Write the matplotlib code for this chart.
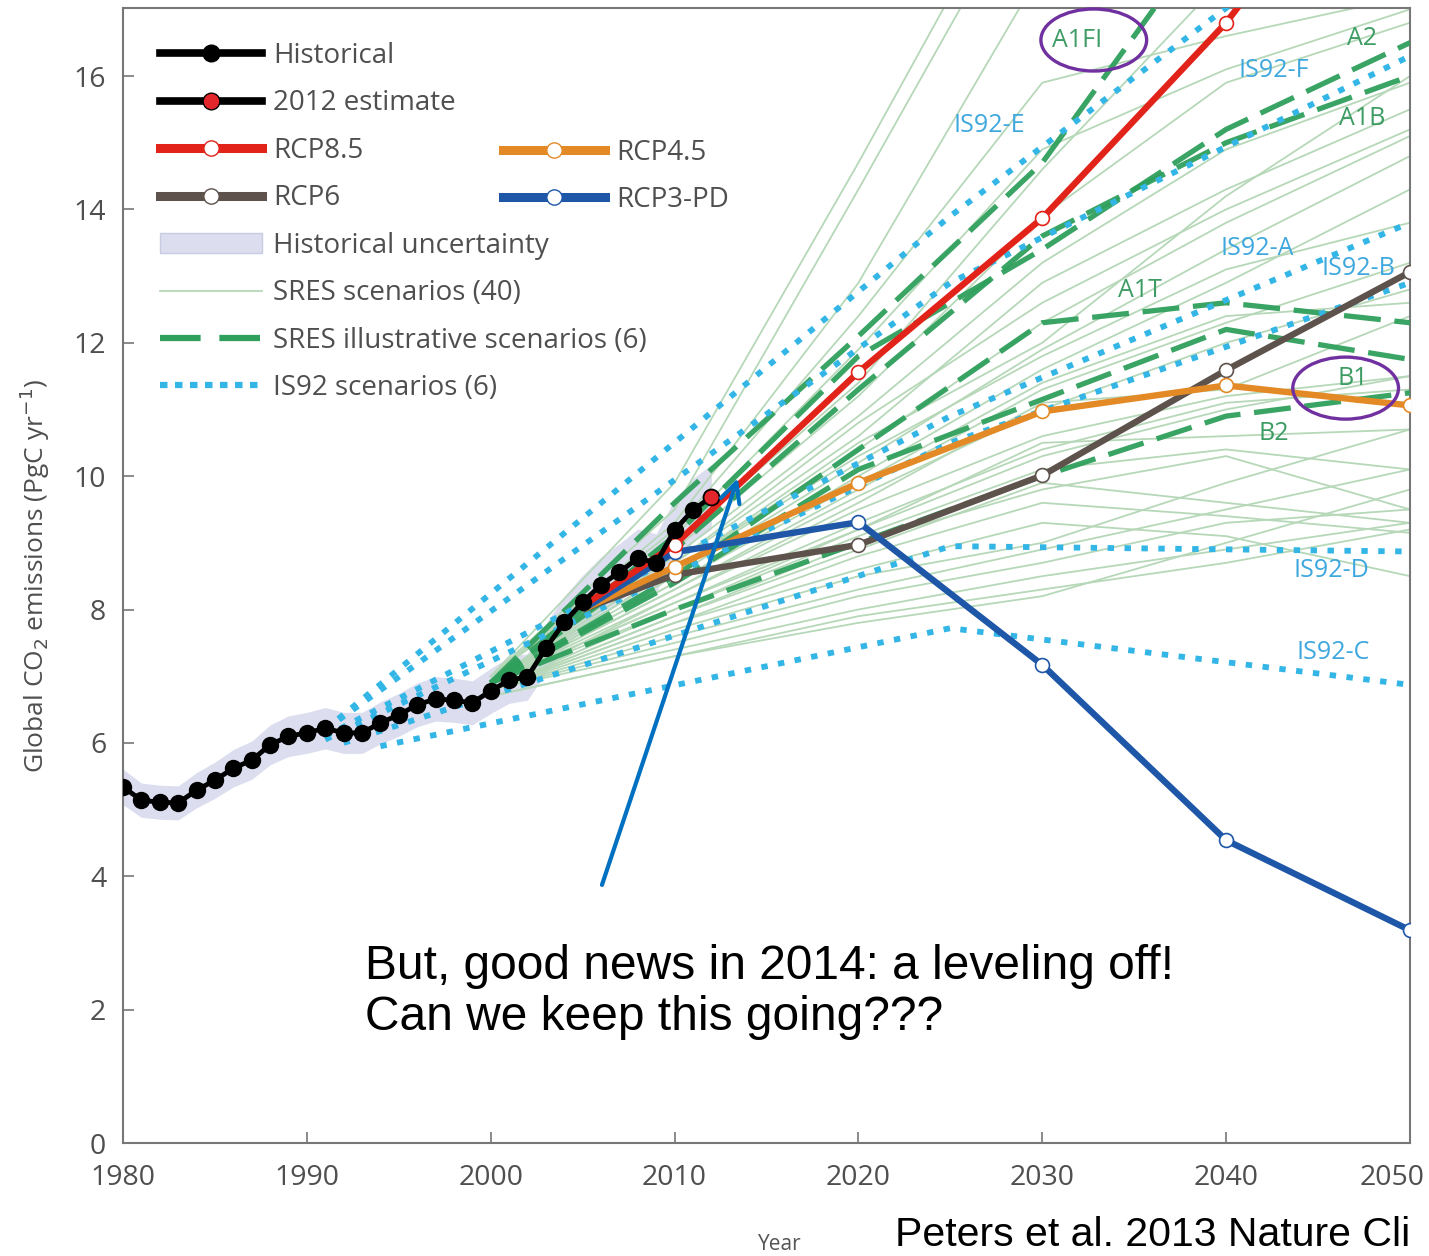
import matplotlib
matplotlib.use('Agg')
import matplotlib.pyplot as plt
import matplotlib.transforms as mtransforms
from matplotlib.lines import Line2D
from matplotlib.patches import Patch, Ellipse

FONT = ['Open Sans', 'DejaVu Sans']
plt.rcParams['font.family'] = FONT

# ---------------- data ----------------
hist_years = list(range(1980, 2013))
hist_values = [5.34, 5.14, 5.11, 5.10, 5.29, 5.44, 5.62, 5.74, 5.97, 6.10,
               6.15, 6.22, 6.15, 6.15, 6.30, 6.42, 6.57, 6.66, 6.64, 6.60,
               6.78, 6.94, 6.99, 7.42, 7.81, 8.11, 8.37, 8.56, 8.77, 8.70,
               9.19, 9.49, 9.69]
est_year = 2012
est_value = 9.69

rcp_years = [2005, 2010, 2020, 2030, 2040, 2050]
rcp85 = [8.05, 8.97, 11.56, 13.87, 16.80, 20.40]
rcp6 = [8.00, 8.52, 8.97, 10.01, 11.59, 13.06]
rcp45 = [8.00, 8.64, 9.90, 10.97, 11.36, 11.06]
rcp3pd = [8.00, 8.86, 9.31, 7.17, 4.54, 3.19]

sres_years = [2000, 2010, 2020, 2030, 2040, 2050]
sres_a1fi = [6.9, 9.6, 12.1, 14.7, 18.5, 23.0]
sres_a2 = [6.9, 9.1, 11.8, 13.4, 15.2, 16.5]
sres_a1b = [6.9, 8.9, 11.3, 13.6, 15.0, 16.0]
sres_a1t = [6.9, 8.5, 10.4, 12.3, 12.6, 12.3]
sres_b1 = [6.9, 8.4, 10.1, 11.15, 12.2, 11.75]
sres_b2 = [6.9, 8.0, 9.0, 10.0, 10.9, 11.25]

sres_other = [
    [7.0, 9.9, 14.7, 19.7, 24.0, 28.0],
    [7.0, 9.5, 14.3, 19.2, 23.0, 27.0],
    [7.0, 9.3, 12.9, 17.6, 21.0, 25.0],
    [7.0, 9.2, 12.4, 15.9, 16.6, 17.2],
    [7.0, 9.0, 11.4, 14.6, 17.5, 20.0],
    [7.0, 9.1, 11.9, 14.9, 16.1, 17.0],
    [6.9, 8.9, 11.2, 13.9, 15.9, 16.8],
    [6.9, 8.8, 10.9, 13.2, 14.9, 15.9],
    [6.9, 8.7, 10.6, 12.9, 14.3, 15.5],
    [6.9, 8.6, 10.4, 12.3, 13.8, 15.1],
    [6.9, 8.5, 10.2, 11.9, 13.4, 14.8],
    [6.9, 8.4, 10.0, 11.6, 12.9, 14.3],
    [6.9, 8.3, 9.8, 11.3, 12.3, 13.2],
    [6.9, 8.3, 9.7, 11.0, 12.0, 12.8],
    [6.9, 8.2, 9.5, 10.6, 11.2, 11.5],
    [6.9, 8.1, 9.3, 10.4, 11.1, 11.3],
    [6.9, 8.1, 9.2, 10.5, 10.6, 10.7],
    [6.8, 8.0, 9.1, 10.1, 10.4, 10.1],
    [6.8, 7.9, 9.0, 9.8, 10.3, 9.5],
    [6.8, 7.9, 8.9, 9.9, 9.6, 9.3],
    [6.8, 7.8, 8.8, 9.6, 9.4, 9.15],
    [6.8, 7.8, 8.6, 9.3, 9.1, 8.5],
    [6.8, 7.7, 8.5, 9.0, 9.9, 10.7],
    [6.8, 7.6, 8.3, 8.9, 9.5, 10.1],
    [6.8, 7.5, 8.2, 8.7, 9.3, 9.5],
    [6.8, 7.4, 8.0, 8.5, 8.9, 9.3],
    [6.7, 7.3, 7.9, 8.3, 8.7, 9.2],
    [6.7, 7.3, 7.8, 8.2, 9.0, 9.8],
    [6.8, 8.2, 9.6, 11.1, 11.3, 12.4],
    [6.9, 8.6, 10.3, 11.8, 13.1, 13.8],
    [6.9, 8.4, 9.9, 11.4, 12.4, 12.6],
    [6.9, 8.0, 9.2, 10.3, 11.0, 11.5],
    [6.9, 8.7, 10.8, 12.6, 14.0, 15.2],
    [6.9, 8.6, 10.5, 12.0, 14.2, 16.0],
]

is92_e_years = [1991, 2025, 2050]
is92_e = [6.2, 13.9, 19.1]
is92_f_years = [1991, 2025, 2050]
is92_f = [6.2, 12.9, 16.3]
is92_a_years = [1991, 2025, 2050]
is92_a = [6.1, 10.9, 13.8]
is92_b_years = [1991, 2025, 2050]
is92_b = [6.05, 10.5, 12.9]
is92_d_years = [1992, 2025, 2050]
is92_d = [6.0, 8.95, 8.87]
is92_c_years = [1994, 2025, 2050]
is92_c = [5.95, 7.72, 6.87]

x_ticks = [1980, 1990, 2000, 2010, 2020, 2030, 2040, 2050]
y_ticks = [0, 2, 4, 6, 8, 10, 12, 14, 16]

# ---------------- style ----------------
C_HIST = 'black'
C_EST = '#e3262b'
C_85 = '#e2231a'
C_45 = '#e38a26'
C_6 = '#5e524c'
C_3PD = '#1f57a8'
C_BAND = '#dcdeef'
C_SRES = '#b6d8b8'
C_ILL = '#2f9f5c'
C_IS92 = '#33b6e6'
C_GLAB = '#3d9c63'
C_BLAB = '#3ea8de'
C_TXT = '#4f4f4f'

fig = plt.figure(figsize=(14.29, 12.56), dpi=100)
ax = fig.add_axes([123 / 1429, 1 - 1143 / 1256, (1410 - 123) / 1429, (1143 - 8) / 1256])
ax.set_xlim(1980, 2050)
ax.set_ylim(0, 17.02)

# historical uncertainty
lo = [v * 0.95 for v in hist_values]
hi = [v * 1.05 for v in hist_values]
ax.fill_between(hist_years, lo, hi, color=C_BAND, lw=0, zorder=1)

# SRES 40
for vals in sres_other:
    ax.plot(sres_years, vals, color=C_SRES, lw=1.3, zorder=2)

# SRES illustrative
ill_style = dict(color=C_ILL, lw=3.8, dashes=(7, 2.6), zorder=3, alpha=0.95)
for vals in [sres_a1fi, sres_a2, sres_a1b, sres_a1t, sres_b1, sres_b2]:
    ax.plot(sres_years, vals, **ill_style)

# IS92
is_style = dict(color=C_IS92, lw=4.2, dashes=(1.1, 1.8), zorder=4, dash_capstyle='butt')
for yrs, vals in [(is92_e_years, is92_e), (is92_f_years, is92_f), (is92_a_years, is92_a),
                  (is92_b_years, is92_b), (is92_d_years, is92_d), (is92_c_years, is92_c)]:
    ax.plot(yrs, vals, **is_style)

# RCPs
def rcp(vals, c, z):
    ax.plot(rcp_years, vals, color=c, lw=4.6, zorder=z, solid_capstyle='butt')
    ax.plot(rcp_years[1:], vals[1:], ls='none', marker='o', ms=10, mfc='white',
            mec=c, mew=1.2, zorder=z + 0.1)

rcp(rcp6, C_6, 5)
rcp(rcp45, C_45, 5.2)
rcp(rcp3pd, C_3PD, 5.4)
rcp(rcp85, C_85, 5.6)

# historical
ax.plot(hist_years, hist_values, color=C_HIST, lw=3.5, zorder=7)
ax.plot(hist_years[:-1], hist_values[:-1], ls='none', marker='o', ms=11.5,
        mfc=C_HIST, mec=C_HIST, zorder=7.1)
ax.plot([est_year], [est_value], ls='none', marker='o', ms=11.5, mfc=C_EST,
        mec='black', mew=1.3, zorder=7.2)

# scenario labels
lab_kw = dict(fontsize=18, ha='center', va='center', zorder=9)
green_labels = [('A1FI', 2031.9, 16.54), ('A2', 2047.4, 16.57), ('A1B', 2047.4, 15.37),
                ('A1T', 2035.3, 12.79), ('B1', 2046.9, 11.47), ('B2', 2042.6, 10.64)]
blue_labels = [('IS92-E', 2027.1, 15.26), ('IS92-F', 2042.6, 16.09), ('IS92-A', 2041.7, 13.42),
               ('IS92-B', 2047.2, 13.12), ('IS92-D', 2045.7, 8.59), ('IS92-C', 2045.8, 7.36)]
for t, x, y in green_labels:
    ax.text(x, y, t, color=C_GLAB, **lab_kw)
for t, x, y in blue_labels:
    ax.text(x, y, t, color=C_BLAB, **lab_kw)

# purple ellipses
for cx, cy in [(2032.8, 16.54), (2046.5, 11.32)]:
    ax.add_patch(Ellipse((cx, cy), 5.75, 0.93, fill=False, ec='#7030a0', lw=2.4, zorder=10,
                         clip_on=False))

# axes styling
for s in ax.spines.values():
    s.set_color('#777777')
    s.set_linewidth(1.5)
ax.set_xticks(x_ticks)
ax.set_yticks(y_ticks)
ax.tick_params(direction='in', length=8, width=1.2, color='#777777', labelcolor=C_TXT,
               labelsize=20.5)
ax.tick_params(axis='x', pad=15)
ax.tick_params(axis='y', pad=12)
last = ax.get_xticklabels()[-1]
last.set_transform(last.get_transform() + mtransforms.ScaledTranslation(-18 / 100, 0, fig.dpi_scale_trans))
ax.set_ylabel(r'Global CO$_2$ emissions (PgC yr$^{-1}$)', fontsize=19, color=C_TXT,
              labelpad=16)

# legends
h_hist = Line2D([], [], color=C_HIST, lw=5.5, marker='o', ms=12, mfc=C_HIST, mec=C_HIST)
h_est = Line2D([], [], color=C_HIST, lw=5.5, marker='o', ms=12, mfc=C_EST, mec='black')
h_85 = Line2D([], [], color=C_85, lw=6.5, marker='o', ms=11, mfc='white', mec=C_85)
h_6 = Line2D([], [], color=C_6, lw=6.5, marker='o', ms=11, mfc='white', mec=C_6)
h_45 = Line2D([], [], color=C_45, lw=6.5, marker='o', ms=11, mfc='white', mec=C_45)
h_3 = Line2D([], [], color=C_3PD, lw=6.5, marker='o', ms=11, mfc='white', mec=C_3PD)
h_band = Patch(facecolor=C_BAND, edgecolor='#c8cce2')
h_sres = Line2D([], [], color=C_SRES, lw=1.3)
h_ill = Line2D([], [], color=C_ILL, lw=4.5, dashes=(6.5, 3.0))
h_is = Line2D([], [], color=C_IS92, lw=4.5, dashes=(1.2, 1.2))

leg_kw = dict(frameon=False, fontsize=20, handlelength=3.67, handletextpad=0.4,
              labelspacing=0.7, borderpad=0, borderaxespad=0, labelcolor=C_TXT,
              loc='upper left')
leg1 = ax.legend([h_hist, h_est, h_85, h_6, h_band, h_sres, h_ill, h_is],
                 ['Historical', '2012 estimate', 'RCP8.5', 'RCP6', 'Historical uncertainty',
                  'SRES scenarios (40)', 'SRES illustrative scenarios (6)', 'IS92 scenarios (6)'],
                 bbox_to_anchor=(0.0287, 0.970), **leg_kw)
ax.add_artist(leg1)
leg1.set_zorder(11)
leg2 = ax.legend([h_45, h_3], ['RCP4.5', 'RCP3-PD'], bbox_to_anchor=(0.2955, 0.885), **leg_kw)
leg2.set_zorder(11)

# annotation arrow and text
ax.annotate('', xy=(2013.44, 9.97), xytext=(2006.05, 3.87),
            arrowprops=dict(arrowstyle='->', color='#0070c0', lw=3, mutation_scale=35,
                            shrinkA=0, shrinkB=0), zorder=12, annotation_clip=False)
fig.text(365 / 1429, 1 - 1030 / 1256, 'But, good news in 2014: a leveling off!\nCan we keep this going???',
         family=['Liberation Sans', 'DejaVu Sans'], fontsize=34.5, color='black',
         ha='left', va='baseline', linespacing=1.16)

fig.text(780 / 1429, 1 - 1245 / 1256, 'Year', fontsize=15, color='#555555', ha='center',
         va='center')
fig.text(895 / 1429, 1 - 1246 / 1256, 'Peters et al. 2013 Nature Cli',
         family=['Liberation Sans', 'DejaVu Sans'], fontsize=29.5, color='black',
         ha='left', va='baseline')

fig.savefig('out.png', dpi=100)
